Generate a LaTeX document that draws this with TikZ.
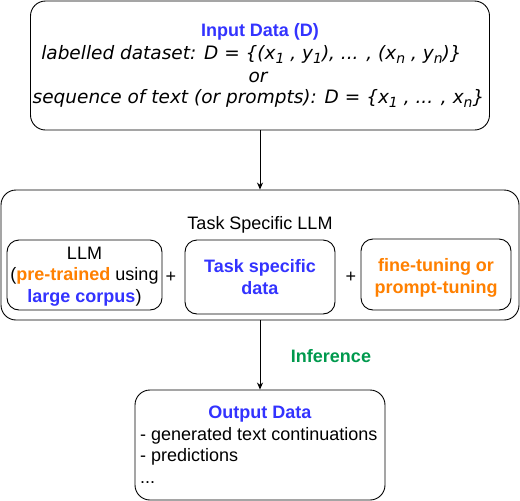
\documentclass[tikz,border=0pt]{standalone}
\usepackage{fontspec}
\setmainfont{Liberation Sans}
\newfontfamily\djv{DejaVu Sans}
\usetikzlibrary{arrows.meta}
\definecolor{myblue}{HTML}{3333FF}
\definecolor{myorange}{HTML}{FF8000}
\definecolor{mygreen}{HTML}{00994D}
\newcommand{\lsub}[1]{\raisebox{-0.4ex}{\fontsize{14}{14}\selectfont #1}}
\begin{document}
\begin{tikzpicture}[x=1pt,y=-1pt,
  box/.style={draw, rounded corners=15pt, line width=0.9pt, inner sep=0pt},
  sbox/.style={draw, rounded corners=12pt, line width=0.9pt, inner sep=0pt},
  txt/.style={font=\fontsize{18}{21.5}\selectfont, align=center, inner sep=0pt},
  itx/.style={font=\djv\itshape\fontsize{18.5}{21.5}\selectfont, align=center, inner sep=0pt},
  arr/.style={-{Stealth[length=7pt,width=6pt]}, line width=0.9pt}]
\useasboundingbox (0,0) rectangle (520,501);
% input box
\node[box, minimum width=459pt, minimum height=129pt] (in) at (260,65.5) {};
\node[txt, anchor=base] (intitle) at (260,36) {\textcolor{myblue}{\textbf{Input Data (D)}}};
\node[itx, anchor=base] (inl1) at (251.5,59) {labelled dataset: D = \{(x\lsub{1} , y\lsub{1}), ... , (x\lsub{n} , y\lsub{n})\}};
\node[itx, anchor=base] (inl2) at (258,82) {or};
\node[itx, anchor=base] (inl3) at (258.5,103) {sequence of text (or prompts): D = \{x\lsub{1} , ... , x\lsub{n}\}};
% task specific LLM
\node[box, minimum width=518pt, minimum height=130pt] (task) at (260,255) {};
\node[txt, anchor=base] (tasktitle) at (260,229) {Task Specific LLM};
\node[sbox, minimum width=155pt, minimum height=70pt] (llm) at (84.5,275) {};
\node[txt, anchor=base] (llmt) at (84.5,302) {LLM\\(\textcolor{myorange}{\textbf{pre-trained}} using\\\textcolor{myblue}{\textbf{large corpus}})};
\node[txt] (plus1) at (171,277) {+};
\node[sbox, minimum width=150pt, minimum height=74pt] (tsd) at (260,277) {};
\node[txt, anchor=base] (tsdt) at (260,294) {\textcolor{myblue}{\textbf{Task specific}}\\\textcolor{myblue}{\textbf{data}}};
\node[txt] (plus2) at (351,277) {+};
\node[sbox, minimum width=150pt, minimum height=71pt] (ft) at (436,274.5) {};
\node[txt, anchor=base] (ftt) at (436,293) {\textcolor{myorange}{\textbf{fine-tuning or}}\\\textcolor{myorange}{\textbf{prompt-tuning}}};
% output
\node[box, minimum width=250pt, minimum height=110pt] (out) at (260,445) {};
\node[txt, anchor=base] (outtitle) at (260,418) {\textcolor{myblue}{\textbf{Output Data}}};
\node[txt, align=left, anchor=base west] (outl) at (140,483) {- generated text continuations\\- predictions\\...};
% arrows
\draw[arr] (in) -- (task);
\draw[arr] (task) -- (out);
\node[txt, anchor=base] (inf) at (331,362) {\textcolor{mygreen}{\textbf{Inference}}};
\end{tikzpicture}
\end{document}
